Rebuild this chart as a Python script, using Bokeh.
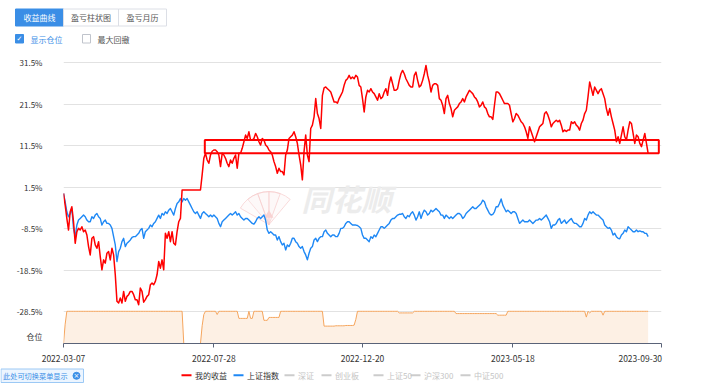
from bokeh.plotting import figure
from bokeh.layouts import column
from bokeh.models import Range1d, FixedTicker, PrintfTickFormatter, Label
from bokeh.core.properties import value
from bokeh.embed import file_html
from bokeh.resources import INLINE

# ---------------- data ----------------
tick_days = [0, 90, 179, 269, 358]
tick_dates = ["2022-03-07", "2022-07-28", "2022-12-20", "2023-05-18", "2023-09-30"]
y_ticks = [31.5, 21.5, 11.5, 1.5, -8.5, -18.5, -28.5]

my_return = [
    0.05, -2.8, -6.0, -8.8, -4.4, -3.2, -6.8, -12.0, -9.2, -8.4,
    -8.8, -8.0, -9.2, -8.8, -10.0, -12.8, -14.8, -10.8, -10.4, -12.4,
    -13.2, -11.6, -15.2, -18.4, -16.0, -16.8, -14.4, -14.0, -16.0, -13.2,
    -14.8, -19.6, -26.0, -26.4, -25.2, -26.4, -23.6, -26.0, -24.8, -24.4,
    -23.6, -23.6, -24.4, -25.6, -25.6, -26.8, -22.8, -23.6, -26.2, -25.6,
    -24.8, -24.4, -22.0, -21.6, -22.0, -21.2, -19.6, -16.4, -18.0, -16.0,
    -18.4, -9.6, -10.8, -9.2, -11.6, -9.2, -12.0, -12.4, -9.2, -6.8,
    -6.0, 0.85, 0.85, 0.85, 0.85, 0.85, 0.85, 0.85, 0.85, 0.85,
    0.85, 0.85, 0.85, 4.5, 8.5, 9.7, 8.1, 7.3, 9.3, 10.2,
    10.5, 10.5, 10.1, 9.3, 6.5, 9.7, 9.3, 8.5, 7.3, 6.5,
    8.1, 7.3, 8.5, 9.3, 6.1, 9.7, 9.7, 10.9, 12.5, 14.1,
    13.3, 14.9, 12.9, 12.9, 13.3, 14.5, 13.7, 12.5, 11.7, 13.3,
    12.9, 11.7, 11.3, 10.5, 10.1, 9.3, 7.7, 6.5, 4.9, 6.1,
    5.3, 5.3, 4.5, 9.3, 10.5, 13.3, 13.7, 14.1, 14.9, 13.7,
    12.1, 9.3, 6.9, 3.3, 10.1, 14.1, 9.3, 7.7, 15.7, 16.5,
    18.5, 22.9, 19.3, 18.1, 15.7, 23.7, 25.5, 25.7, 25.3, 24.9,
    24.5, 23.3, 22.1, 22.1, 21.8, 22.9, 23.7, 24.5, 26.1, 27.3,
    27.7, 28.5, 27.7, 28.1, 27.7, 28.5, 28.1, 26.1, 25.7, 22.9,
    19.7, 23.3, 24.9, 24.5, 25.3, 24.5, 24.1, 23.3, 22.5, 24.1,
    22.9, 23.3, 24.5, 25.3, 23.7, 26.5, 28.1, 26.5, 24.9, 24.9,
    25.3, 27.3, 28.9, 29.7, 28.9, 27.7, 26.9, 26.1, 25.7, 25.7,
    28.5, 29.3, 27.3, 25.7, 26.1, 27.3, 28.9, 30.9, 28.5, 26.9,
    24.5, 26.1, 26.5, 26.5, 26.1, 22.9, 22.5, 21.3, 19.3, 22.9,
    23.7, 21.7, 20.5, 18.5, 20.1, 20.5, 20.9, 21.7, 22.1, 22.9,
    22.1, 23.3, 24.1, 24.9, 24.5, 24.1, 23.3, 22.9, 22.1, 20.9,
    21.3, 22.1, 20.9, 20.5, 19.3, 18.5, 18.5, 17.9, 21.3, 24.5,
    24.5, 24.1, 23.3, 22.5, 21.7, 21.7, 21.7, 21.3, 19.3, 17.3,
    18.1, 19.3, 18.9, 18.1, 17.3, 16.9, 16.1, 14.9, 13.3, 16.1,
    14.9, 13.7, 12.5, 13.7, 14.9, 16.1, 16.5, 16.9, 19.3, 19.7,
    18.9, 17.7, 16.1, 16.9, 17.3, 17.7, 17.3, 17.7, 16.5, 14.9,
    15.3, 15.0, 15.3, 15.3, 17.3, 16.9, 17.3, 16.5, 16.1, 15.3,
    16.9, 17.7, 19.3, 20.1, 23.3, 26.9, 25.3, 23.7, 25.7, 24.9,
    24.1, 24.9, 25.3, 24.1, 22.9, 20.5, 18.9, 20.5, 18.5, 16.9,
    15.3, 12.5, 13.7, 12.1, 14.1, 16.1, 13.7, 12.9, 15.3, 17.3,
    16.9, 14.5, 12.1, 14.1, 13.7, 12.1, 11.3, 12.9, 14.5, 12.1, 9.7,
]

sh_index = [
    0.05, -2.0, -4.4, -5.6, -4.8, -3.6, -8.4, -10.4, -7.6, -6.4,
    -6.0, -5.6, -5.2, -5.6, -6.4, -6.8, -6.8, -5.6, -6.0, -5.2,
    -4.8, -5.6, -6.0, -7.6, -6.8, -6.4, -7.2, -7.2, -7.6, -8.4,
    -10.4, -12.4, -16.4, -14.0, -13.2, -11.6, -10.8, -12.8, -12.0, -11.6,
    -11.2, -10.6, -10.4, -10.4, -10.0, -9.6, -8.8, -8.4, -10.8, -9.2,
    -8.8, -8.4, -7.6, -8.0, -7.2, -6.8, -6.0, -5.2, -6.0, -4.8,
    -5.2, -4.4, -4.8, -4.0, -3.6, -4.4, -5.2, -3.6, -2.4, -2.0,
    -1.2, -2.0, -1.2, -1.6, -1.2, -2.0, -2.8, -3.6, -4.4, -4.8,
    -4.4, -5.2, -6.0, -4.8, -4.4, -4.8, -5.2, -5.6, -5.2, -5.6,
    -5.2, -5.6, -6.0, -7.2, -8.0, -6.8, -6.4, -6.0, -5.6, -5.2,
    -4.8, -5.2, -4.8, -4.4, -5.2, -4.8, -5.6, -6.0, -6.4, -6.0,
    -6.0, -6.4, -6.8, -7.2, -7.4, -6.8, -6.0, -5.6, -6.0, -5.6,
    -5.2, -6.4, -8.8, -9.6, -9.2, -9.6, -10.0, -10.0, -11.2, -10.4,
    -11.6, -12.4, -12.0, -13.6, -12.4, -12.8, -12.0, -10.8, -10.8, -11.6,
    -12.0, -12.8, -13.2, -12.8, -14.0, -14.8, -16.0, -14.4, -13.2, -12.8,
    -11.2, -10.8, -11.6, -10.8, -10.4, -10.4, -9.2, -8.8, -9.6, -10.0,
    -10.4, -10.0, -10.0, -10.4, -10.4, -9.6, -8.4, -8.4, -8.0, -7.2,
    -6.8, -6.8, -7.2, -7.6, -7.6, -7.6, -7.7, -8.0, -8.4, -10.0,
    -10.8, -10.8, -11.2, -11.6, -10.4, -10.8, -10.0, -10.4, -9.6, -8.8,
    -8.0, -8.0, -8.4, -8.0, -7.6, -7.2, -6.4, -6.0, -6.0, -5.6,
    -5.2, -5.0, -5.0, -4.8, -5.6, -6.0, -5.3, -5.6, -4.8, -4.4,
    -5.2, -6.4, -5.6, -4.4, -6.0, -4.8, -4.0, -4.4, -5.2, -4.8,
    -4.0, -4.4, -4.0, -3.6, -4.0, -4.4, -5.2, -5.2, -6.0, -5.2,
    -5.6, -6.0, -5.6, -6.0, -5.6, -5.2, -4.8, -4.8, -5.2, -6.0,
    -5.6, -4.8, -4.4, -4.0, -3.6, -3.2, -3.6, -3.6, -3.2, -2.8,
    -2.4, -1.6, -2.0, -3.2, -4.0, -4.8, -5.2, -5.0, -4.4, -3.2,
    -3.2, -2.4, -1.3, -2.8, -3.6, -4.4, -4.0, -4.4, -4.8, -4.4,
    -4.4, -4.8, -6.0, -7.2, -6.8, -6.4, -6.8, -6.8, -6.8, -6.4,
    -6.8, -7.2, -6.8, -6.4, -6.4, -6.0, -6.4, -6.0, -5.6, -5.2,
    -6.0, -6.8, -8.4, -7.6, -7.6, -7.2, -6.4, -6.0, -7.2, -6.8,
    -6.4, -7.2, -6.8, -6.4, -6.0, -6.8, -7.2, -7.2, -7.6, -8.0,
    -8.0, -7.2, -6.0, -6.4, -5.2, -4.4, -4.8, -4.4, -4.8, -5.2,
    -5.2, -5.6, -6.0, -6.4, -7.6, -8.0, -8.4, -8.2, -8.8, -10.0,
    -9.6, -10.4, -10.8, -10.9, -10.0, -9.6, -8.8, -9.2, -8.0, -8.4,
    -8.8, -9.2, -9.2, -8.8, -9.2, -9.0, -9.2, -9.2, -9.6, -9.6, -10.4,
]

# position (仓位, %) as runs: level held for a number of trading days
position_level = [0, 60, 100, 0, 55, 90, 100, 90, 100, 78, 100, 78, 100, 72, 81, 100,
                  54, 54, 55, 55, 56, 56, 57, 75, 100, 95, 100, 93, 88, 100, 82, 100,
                  95, 100, 88, 100]
position_span = [1, 1, 70, 11, 1, 1, 7, 1, 12, 6, 1, 2, 6, 3, 7, 26,
                 4, 3, 3, 3, 3, 2, 1, 1, 25, 9, 25, 25, 6, 47, 1, 1,
                 1, 7, 1, 27]

legend_names = ["我的收益", "上证指数", "深证", "创业板", "上证50", "沪深300", "中证500"]
legend_shown = [True, True, False, False, False, False, False]

tab_names = ["收益曲线", "盈亏柱状图", "盈亏月历"]
check_names = ["显示仓位", "最大回撤"]
hint_text = "此处可切换菜单显示"

highlight_days = (84.6, 356.4)      # red marked box
highlight_pct = (9.7, 12.9)

# ---------------- derived ----------------
position = []
for lvl, n in zip(position_level, position_span):
    position.extend([lvl] * n)
days = list(range(len(my_return)))

FONT = "Noto Sans CJK SC"
RED = "#ff0000"
BLUE = "#1e88f5"
UI_BLUE = "#3a8ee6"
W = 720


def blank_fig(height, y0, y1):
    f = figure(width=W, height=height, output_backend="svg", toolbar_location=None,
               x_range=Range1d(0, W), y_range=Range1d(y1, y0),
               x_axis_type=None, y_axis_type=None, min_border=0)
    f.outline_line_color = None
    f.grid.visible = False
    f.background_fill_color = "white"
    f.border_fill_color = "white"
    if "frame_align" in f.properties():
        f.frame_align = False
    return f


# ---------------- top: tabs + checkboxes ----------------
top = blank_fig(47, 0, 47)
tab_left = [15, 63, 118]
tab_right = [63, 118, 166]
top.quad(left=tab_left, right=tab_right, top=[8.5] * 3, bottom=[25.5] * 3,
         fill_color=[UI_BLUE, "white", "white"], line_color=[UI_BLUE, "#dcdfe6", "#dcdfe6"],
         line_width=1)
top.text(x=[(a + b) / 2 for a, b in zip(tab_left, tab_right)], y=[17.2] * 3, text=tab_names,
         text_align="center", text_baseline="middle", text_font=value(FONT),
         text_font_size="8px", text_color=["white", "#555555", "#555555"])
top.quad(left=[15, 82], right=[23, 90], top=[34, 34], bottom=[42.5, 42.5],
         fill_color=[UI_BLUE, "white"], line_color=[UI_BLUE, "#c0c4cc"], line_width=1)
top.text(x=[19], y=[38.5], text=["✓"], text_align="center", text_baseline="middle",
         text_font=value("DejaVu Sans"), text_font_size="7px", text_color="white",
         text_font_style="bold")
top.text(x=[30, 97], y=[38.5, 38.5], text=check_names, text_align="left",
         text_baseline="middle", text_font=value(FONT), text_font_size="8px",
         text_color=[UI_BLUE, "#555555"])

# ---------------- main chart ----------------
p = figure(width=W, height=319, output_backend="svg", toolbar_location=None,
           x_range=Range1d(0, 358), y_range=Range1d(-36.17, 33.3),
           min_border_left=63, min_border_right=59, min_border_top=8, min_border_bottom=22)
p.extra_y_ranges = {"pos": Range1d(0, 894.7)}
p.outline_line_color = None
p.background_fill_color = "white"
p.border_fill_color = "white"
if "frame_align" in p.properties():
    p.frame_align = False

p.xgrid.visible = False
p.ygrid.ticker = FixedTicker(ticks=y_ticks)
p.ygrid.grid_line_color = "#e2e2e2"

p.yaxis.ticker = FixedTicker(ticks=y_ticks + [-34.5])
p.yaxis.formatter = PrintfTickFormatter(format="%.1f%%")
p.yaxis.major_label_overrides = {-34.5: "仓位"}
p.yaxis.axis_line_color = None
p.yaxis.major_tick_line_color = None
p.yaxis.minor_tick_line_color = None
p.yaxis.major_label_standoff = 15
p.yaxis.major_label_text_font = FONT
p.yaxis.major_label_text_font_size = "8px"
p.yaxis.major_label_text_color = "#333333"

p.xaxis.ticker = FixedTicker(ticks=tick_days)
overrides = {d: t for d, t in zip(tick_days, tick_dates)}
overrides[tick_days[-1]] = tick_dates[-1] + "\u2003" * 5   # last label sits left of its tick
p.xaxis.major_label_overrides = overrides
p.xaxis.axis_line_color = "#5a6378"
p.xaxis.major_tick_line_color = "#5a6378"
p.xaxis.major_tick_out = 4
p.xaxis.major_tick_in = 0
p.xaxis.minor_tick_line_color = None
p.xaxis.major_label_standoff = 4
p.xaxis.major_label_text_font = FONT
p.xaxis.major_label_text_font_size = "8.5px"
p.xaxis.major_label_text_color = "#333333"

# watermark
p.add_layout(Label(x=283, y=146, x_units="screen", y_units="screen", text="同花顺",
                   text_align="center", text_baseline="middle", text_font=FONT,
                   text_font_size="30px", text_font_style="bold italic",
                   text_color="#ececec", level="underlay"))
for a0, a1 in [(50, 90), (70, 110), (90, 130), (110, 150)]:
    p.wedge(x=[123], y=[-7.5], radius=33, radius_units="screen",
            start_angle=a0, end_angle=a1, start_angle_units="deg", end_angle_units="deg",
            fill_color="#fdeeee", fill_alpha=0.25, line_color="#f6cccc", line_alpha=0.7,
            level="underlay")
p.scatter(x=[123], y=[-5.2], marker="triangle", size=9, fill_color="#f8d2d2",
          line_color=None, level="underlay")

# position area
p.varea(x=days, y1=0, y2=position, y_range_name="pos", fill_color="#fdf0e4")
p.line(days, position, y_range_name="pos", line_color="#f5a55d", line_width=1)

# main lines
p.line(days, sh_index, line_color=BLUE, line_width=1.4, line_join="round")
p.line(days, my_return, line_color=RED, line_width=1.5, line_join="round")

# highlight box
p.quad(left=[highlight_days[0]], right=[highlight_days[1]],
       bottom=[highlight_pct[0]], top=[highlight_pct[1]],
       fill_alpha=0, line_color=RED, line_width=2)

# ---------------- bottom: hint badge + legend ----------------
bot = blank_fig(20, 366, 386)
bot.quad(left=[0.5], right=[83], top=[368.5], bottom=[382], fill_color="#ecf5ff",
         line_color="#9cc9f5", line_width=1)
bot.text(x=[2.5], y=[375.3], text=[hint_text], text_align="left", text_baseline="middle",
         text_font=value(FONT), text_font_size="7.2px", text_color=UI_BLUE)
bot.scatter(x=[76], y=[375.3], size=7, marker="circle", fill_color=UI_BLUE,
            line_color=UI_BLUE)
bot.text(x=[76], y=[375.3], text=["×"], text_align="center", text_baseline="middle",
         text_font=value("DejaVu Sans"), text_font_size="7px", text_color="white")

legend_x = [181, 233, 284, 321, 373, 410, 460]
series_colors = [RED, BLUE] + ["#cccccc"] * 5
text_colors = ["#333333" if s else "#c4c4c4" for s in legend_shown]
bot.segment(x0=legend_x, x1=[x + 10 for x in legend_x], y0=[374.8] * 7, y1=[374.8] * 7,
            line_color=series_colors, line_width=2)
bot.text(x=[x + 13.5 for x in legend_x], y=[375] * 7, text=legend_names, text_align="left",
         text_baseline="middle", text_font=value(FONT), text_font_size="8px",
         text_color=text_colors)

layout = column(top, p, bot, spacing=0)
open("out.html", "w").write(file_html(layout, INLINE))
